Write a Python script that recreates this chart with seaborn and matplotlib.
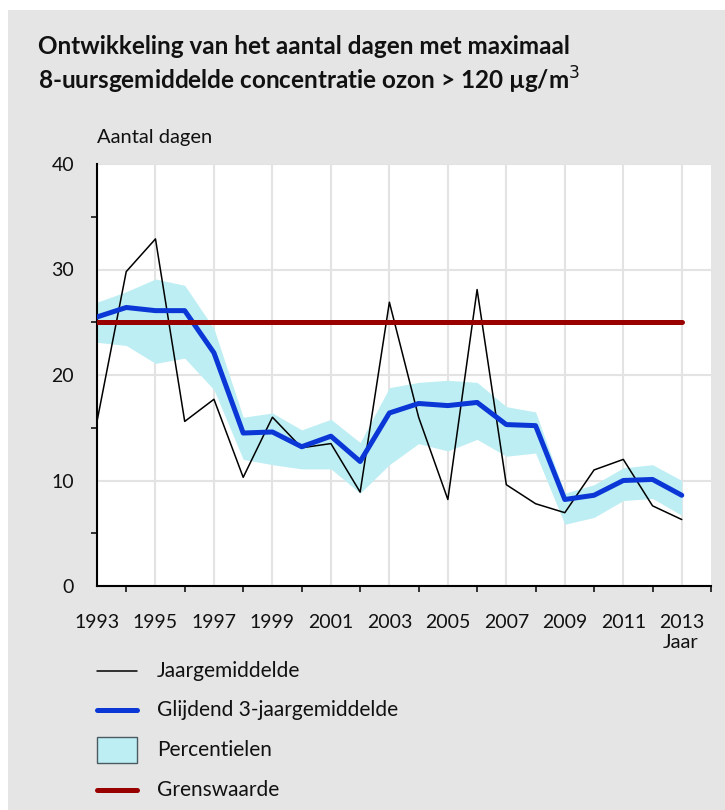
import matplotlib
matplotlib.use("Agg")
import matplotlib.pyplot as plt
from matplotlib.lines import Line2D
from matplotlib.patches import Rectangle
from matplotlib.ticker import MultipleLocator
import numpy as np
import pandas as pd
import seaborn as sns

# Data: number of days with max 8-hour mean ozone > 120 ug/m3
jaren = list(range(1993, 2014))
jaargemiddelde = [15.6, 29.8, 32.9, 15.6, 17.7, 10.3, 16.0, 13.1, 13.5, 8.9, 26.9,
                  16.0, 8.2, 28.1, 9.6, 7.8, 6.95, 11.0, 12.0, 7.6, 6.3]
glijdend = [25.5, 26.4, 26.1, 26.1, 22.1, 14.5, 14.6, 13.2, 14.2, 11.8, 16.4,
            17.3, 17.1, 17.4, 15.3, 15.2, 8.2, 8.6, 10.0, 10.1, 8.6]
percentiel_hoog = [26.9, 27.9, 29.1, 28.5, 24.4, 16.0, 16.4, 14.8, 15.8, 13.6, 18.8,
                   19.3, 19.5, 19.3, 17.0, 16.5, 8.8, 9.6, 11.2, 11.5, 10.0]
percentiel_laag = [23.1, 22.8, 21.1, 21.6, 18.6, 12.0, 11.5, 11.1, 11.1, 8.8, 11.5,
                   13.5, 12.8, 13.9, 12.3, 12.6, 5.85, 6.5, 8.1, 8.3, 6.7]
grenswaarde = 25
grens_jaren = [1993, 2013]

y_ticks = [0, 10, 20, 30, 40]
x_ticks = list(range(1993, 2014, 2))

df = pd.DataFrame({
    "jaar": jaren,
    "jaargemiddelde": jaargemiddelde,
    "glijdend": glijdend,
    "laag": percentiel_laag,
    "hoog": percentiel_hoog,
})
df_grens = pd.DataFrame({"jaar": grens_jaren, "waarde": [grenswaarde] * len(grens_jaren)})

sns.set_theme(style="white")
plt.rcParams["font.family"] = ["Lato", "DejaVu Sans"]

W, H = 725, 810
fig = plt.figure(figsize=(W / 100, H / 100), dpi=100)
fig.patch.set_facecolor("white")

GRAY = "#e5e5e5"
TXT = "#111111"
fig.add_artist(Rectangle((8 / W, 0), 1 - 8 / W, 1 - 10 / H, transform=fig.transFigure,
                         facecolor=GRAY, edgecolor="none", zorder=0))


def fx(px):
    return px / W


def fy(py):
    return 1 - py / H


ax = fig.add_axes([fx(97), fy(586), fx(711) - fx(97), fy(164) - fy(586)])
ax.set_facecolor("white")

ax.fill_between(df["jaar"], df["laag"], df["hoog"], color="#bdeef3", linewidth=0, zorder=2)
sns.lineplot(data=df, x="jaar", y="jaargemiddelde", ax=ax, color="black", linewidth=1.1, zorder=3)
sns.lineplot(data=df, x="jaar", y="glijdend", ax=ax, color="#0a37d6", linewidth=3.6, zorder=4)
sns.lineplot(data=df_grens, x="jaar", y="waarde", ax=ax, color="#990000", linewidth=3.6, zorder=5)

ax.set_xlim(1993, 2014)
ax.set_ylim(0, 40)
ax.set_xticks(x_ticks)
ax.set_xticklabels([str(x) for x in x_ticks])
ax.xaxis.set_minor_locator(MultipleLocator(1))
ax.set_yticks(y_ticks)
ax.set_yticklabels([str(y) for y in y_ticks])
ax.yaxis.set_minor_locator(MultipleLocator(5))
ax.set_xlabel("")
ax.set_ylabel("")

ax.grid(True, which="major", color="#e3e3e3", linewidth=1.5, zorder=1)
ax.set_axisbelow(True)
for s in ["top", "right"]:
    ax.spines[s].set_visible(False)
for s in ["left", "bottom"]:
    ax.spines[s].set_color("black")
    ax.spines[s].set_linewidth(1.5)

ax.tick_params(axis="both", which="major", direction="out", length=9.5, width=1.3,
               color="black", labelsize=14, labelcolor=TXT)
ax.tick_params(axis="both", which="minor", direction="out", length=4.5, width=1.1,
               color="black")
ax.tick_params(axis="x", which="major", pad=11)
ax.tick_params(axis="y", which="major", pad=7)
ax.yaxis.set_tick_params(which="minor", left=True)
ax.xaxis.set_tick_params(which="minor", bottom=True)

# Titles and axis captions
fig.text(fx(38), fy(47), "Ontwikkeling van het aantal dagen met maximaal",
         fontsize=17.5, fontweight="bold", color=TXT, va="center", ha="left")
fig.text(fx(38), fy(80), "8-uursgemiddelde concentratie ozon > 120 µg/m$^3$",
         fontsize=17.5, fontweight="bold", color=TXT, va="center", ha="left")
fig.text(fx(97), fy(137), "Aantal dagen", fontsize=14.5, color=TXT, va="center", ha="left")
fig.text(fx(681), fy(643), "Jaar", fontsize=14.5, color=TXT, va="center", ha="center")

# Legend
leg_x0, leg_x1, txt_x = 97, 137, 157
rows = [671, 710, 750, 790]
fig.add_artist(Line2D([fx(leg_x0), fx(leg_x1)], [fy(rows[0])] * 2, color="black",
                      linewidth=1.1, transform=fig.transFigure))
fig.add_artist(Line2D([fx(leg_x0), fx(leg_x1)], [fy(rows[1])] * 2, color="#0a37d6",
                      linewidth=3.6, transform=fig.transFigure))
fig.add_artist(Rectangle((fx(leg_x0), fy(rows[2] + 13)), fx(leg_x1) - fx(leg_x0),
                         fy(rows[2] - 13) - fy(rows[2] + 13), transform=fig.transFigure,
                         facecolor="#bdeef3", edgecolor="#4a5a60", linewidth=1.0))
fig.add_artist(Line2D([fx(leg_x0), fx(leg_x1)], [fy(rows[3])] * 2, color="#990000",
                      linewidth=3.6, transform=fig.transFigure))
labels = ["Jaargemiddelde", "Glijdend 3-jaargemiddelde", "Percentielen", "Grenswaarde"]
for r, lab in zip(rows, labels):
    fig.text(fx(txt_x), fy(r), lab, fontsize=15, color=TXT, va="center", ha="left")

fig.savefig("out.png", dpi=100, facecolor=fig.get_facecolor())
